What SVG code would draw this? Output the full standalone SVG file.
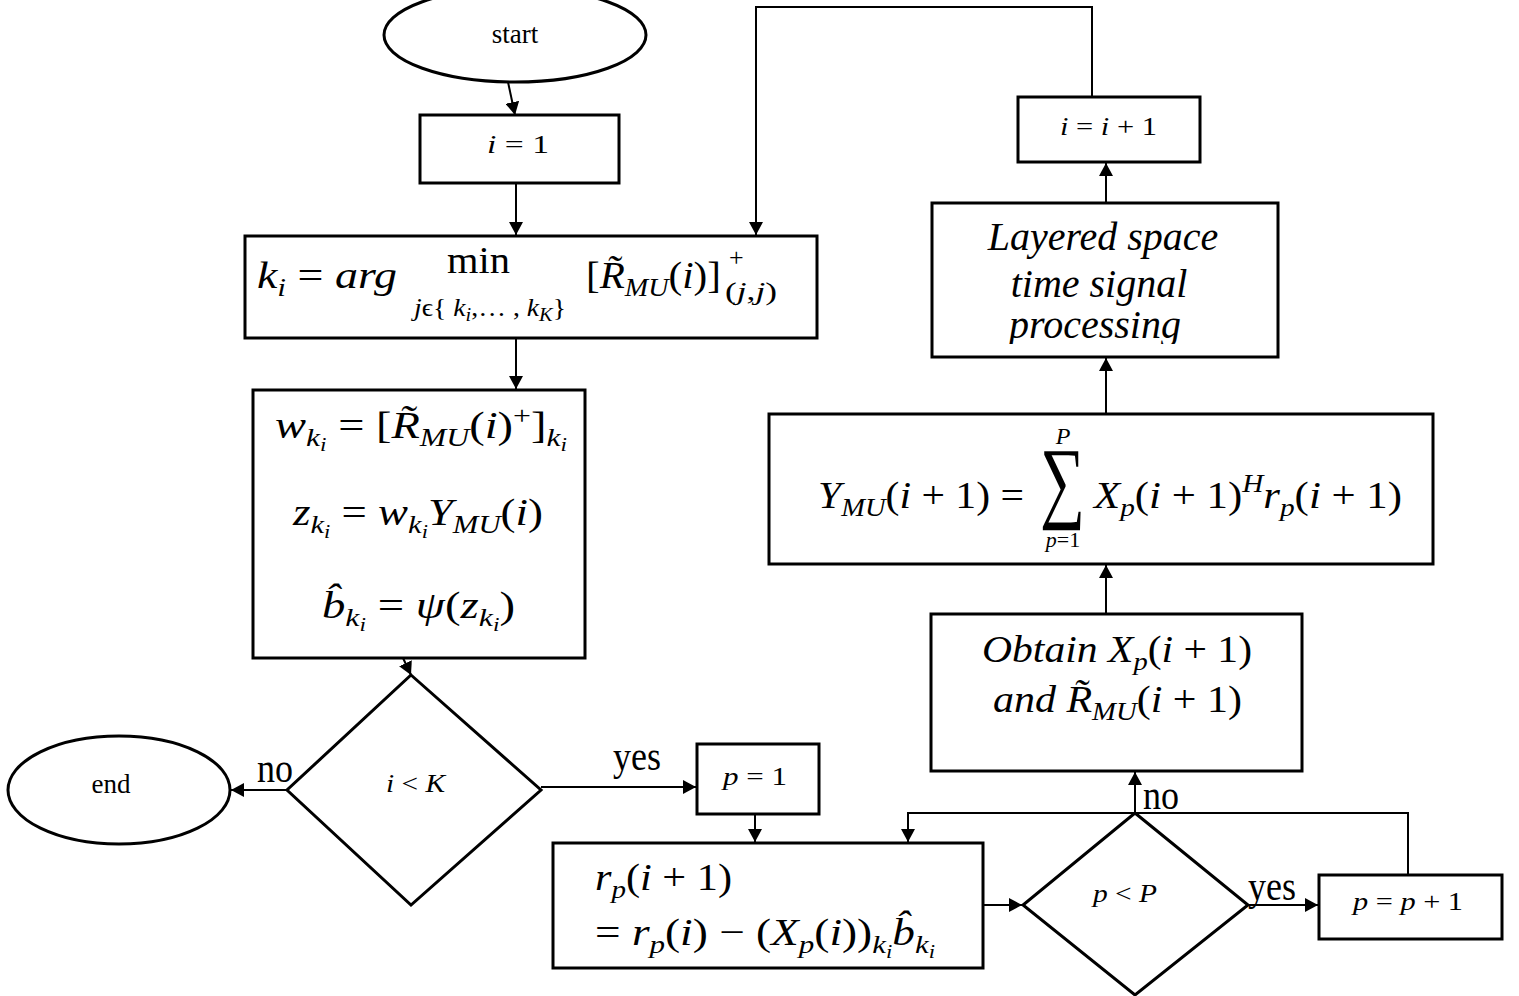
<svg xmlns="http://www.w3.org/2000/svg" width="1519" height="996" viewBox="0 0 1519 996">
<style>
text{font-family:"Liberation Serif","Times New Roman",serif;fill:#000}
.f{font-size:38px}
.s{font-size:26px}
.ss{font-size:19px}
.i{font-style:italic}
.box{fill:#fff;stroke:#000;stroke-width:3}
.sm{font-size:26px}
.lbl{font-size:36px}
.term{font-size:27px}
.conn line,.conn polyline{fill:none;stroke:#000;stroke-width:2}
</style>
<defs>
<marker id="ah" markerUnits="userSpaceOnUse" markerWidth="14" markerHeight="14" refX="13" refY="7" orient="auto">
<path d="M0,0 L13,7 L0,14 z" fill="#000"/>
</marker>
<clipPath id="clipLayer"><rect x="932" y="203" width="346" height="141"/></clipPath>
</defs>

<g id="start">
<ellipse class="box" cx="515" cy="35" rx="131" ry="47"/>
<text class="term" x="515" y="43" text-anchor="middle">start</text>
</g>

<g id="init-i">
<rect class="box" x="420" y="115" width="199" height="68"/>
<text class="sm" x="487" y="153" textLength="62" lengthAdjust="spacingAndGlyphs"><tspan class="i">i</tspan> = 1</text>
</g>

<g id="select-k">
<rect class="box" x="245" y="236" width="572" height="102"/>
<text class="f" x="257" y="288" textLength="140" lengthAdjust="spacingAndGlyphs"><tspan class="i">k</tspan><tspan class="s i" y="296">i</tspan><tspan y="288"> = </tspan><tspan class="i">arg</tspan></text>
<text class="f" x="447" y="273" textLength="63" lengthAdjust="spacingAndGlyphs">min</text>
<text class="s" x="414" y="316" textLength="152" lengthAdjust="spacingAndGlyphs"><tspan class="i">j</tspan><tspan>ϵ{ </tspan><tspan class="i">k</tspan><tspan class="ss i" y="321">i</tspan><tspan y="316">,… , </tspan><tspan class="i">k</tspan><tspan class="ss i" y="321">K</tspan><tspan y="316">}</tspan></text>
<text class="f" x="586" y="288" textLength="135" lengthAdjust="spacingAndGlyphs">[<tspan class="i">R̃</tspan><tspan class="s i" y="296">MU</tspan><tspan y="288">(</tspan><tspan class="i">i</tspan><tspan>)]</tspan></text>
<text class="s" x="729" y="266">+</text>
<text class="s" x="725" y="300" textLength="52" lengthAdjust="spacingAndGlyphs">(<tspan class="i">j</tspan>,<tspan class="i">j</tspan>)</text>
</g>

<g id="detect">
<rect class="box" x="253" y="390" width="332" height="268"/>
<text class="f" x="275" y="438" textLength="292" lengthAdjust="spacingAndGlyphs"><tspan class="i">w</tspan><tspan class="s i" y="446">k</tspan><tspan class="ss i" y="451">i</tspan><tspan y="438"> = [</tspan><tspan class="i">R̃</tspan><tspan class="s i" y="446">MU</tspan><tspan y="438">(</tspan><tspan class="i">i</tspan><tspan>)</tspan><tspan class="s" y="424">+</tspan><tspan y="438">]</tspan><tspan class="s i" y="446">k</tspan><tspan class="ss i" y="451">i</tspan></text>
<text class="f" x="293" y="525" textLength="250" lengthAdjust="spacingAndGlyphs"><tspan class="i">z</tspan><tspan class="s i" y="533">k</tspan><tspan class="ss i" y="538">i</tspan><tspan y="525"> = </tspan><tspan class="i">w</tspan><tspan class="s i" y="533">k</tspan><tspan class="ss i" y="538">i</tspan><tspan class="i" y="525">Y</tspan><tspan class="s i" y="533">MU</tspan><tspan y="525">(</tspan><tspan class="i">i</tspan><tspan>)</tspan></text>
<text class="f" x="322" y="618" textLength="193" lengthAdjust="spacingAndGlyphs"><tspan class="i">b̂</tspan><tspan class="s i" y="626">k</tspan><tspan class="ss i" y="631">i</tspan><tspan y="618"> = </tspan><tspan class="i">ψ</tspan><tspan>(</tspan><tspan class="i">z</tspan><tspan class="s i" y="626">k</tspan><tspan class="ss i" y="631">i</tspan><tspan y="618">)</tspan></text>
</g>

<g id="check-i">
<polygon class="box" points="411,675 541,790 411,905 287,790"/>
<text class="sm" x="386" y="792" textLength="59" lengthAdjust="spacingAndGlyphs"><tspan class="i">i</tspan> &lt; <tspan class="i">K</tspan></text>
</g>

<g id="end">
<ellipse class="box" cx="119" cy="790" rx="111" ry="54"/>
<text class="term" x="111" y="793" text-anchor="middle">end</text>
</g>

<g id="init-p">
<rect class="box" x="697" y="744" width="122" height="70"/>
<text class="sm" x="723" y="785" textLength="64" lengthAdjust="spacingAndGlyphs"><tspan class="i">p</tspan> = 1</text>
</g>

<g id="residual">
<rect class="box" x="553" y="843" width="430" height="125"/>
<text class="f" x="595" y="890" textLength="137" lengthAdjust="spacingAndGlyphs"><tspan class="i">r</tspan><tspan class="s i" y="898">p</tspan><tspan y="890">(</tspan><tspan class="i">i</tspan><tspan> + 1)</tspan></text>
<text class="f" x="595" y="945" textLength="340" lengthAdjust="spacingAndGlyphs">= <tspan class="i">r</tspan><tspan class="s i" y="953">p</tspan><tspan y="945">(</tspan><tspan class="i">i</tspan><tspan>) − (</tspan><tspan class="i">X</tspan><tspan class="s i" y="953">p</tspan><tspan y="945">(</tspan><tspan class="i">i</tspan><tspan>))</tspan><tspan class="s i" y="953">k</tspan><tspan class="ss i" y="958">i</tspan><tspan class="i" y="945">b̂</tspan><tspan class="s i" y="953">k</tspan><tspan class="ss i" y="958">i</tspan></text>
</g>

<g id="check-p">
<polygon class="box" points="1135,813 1248,905 1135,995 1023,905"/>
<text class="sm" x="1093" y="902" textLength="64" lengthAdjust="spacingAndGlyphs"><tspan class="i">p</tspan> &lt; <tspan class="i">P</tspan></text>
</g>

<g id="inc-p">
<rect class="box" x="1319" y="875" width="183" height="64"/>
<text class="sm" x="1353" y="910" textLength="110" lengthAdjust="spacingAndGlyphs"><tspan class="i">p</tspan> = <tspan class="i">p</tspan> + 1</text>
</g>

<g id="obtain">
<rect class="box" x="931" y="614" width="371" height="157"/>
<text class="f" x="982" y="662" textLength="270" lengthAdjust="spacingAndGlyphs"><tspan class="i">Obtain X</tspan><tspan class="s i" y="670">p</tspan><tspan y="662">(</tspan><tspan class="i">i</tspan><tspan> + 1)</tspan></text>
<text class="f" x="993" y="712" textLength="249" lengthAdjust="spacingAndGlyphs"><tspan class="i">and R̃</tspan><tspan class="s i" y="720">MU</tspan><tspan y="712">(</tspan><tspan class="i">i</tspan><tspan> + 1)</tspan></text>
</g>

<g id="combine">
<rect class="box" x="769" y="414" width="664" height="150"/>
<text class="f" x="818" y="508" textLength="206" lengthAdjust="spacingAndGlyphs"><tspan class="i">Y</tspan><tspan class="s i" y="516">MU</tspan><tspan y="508">(</tspan><tspan class="i">i</tspan><tspan> + 1) =</tspan></text>
<text x="1040" y="511" font-size="91" textLength="45" lengthAdjust="spacingAndGlyphs">∑</text>
<text class="i" font-size="24" x="1063" y="444" text-anchor="middle">P</text>
<text font-size="22" x="1063" y="547" text-anchor="middle"><tspan class="i">p</tspan>=1</text>
<text class="f" x="1094" y="508" textLength="308" lengthAdjust="spacingAndGlyphs"><tspan class="i">X</tspan><tspan class="s i" y="516">p</tspan><tspan y="508">(</tspan><tspan class="i">i</tspan><tspan> + 1)</tspan><tspan class="s i" y="492">H</tspan><tspan class="i" y="508">r</tspan><tspan class="s i" y="516">p</tspan><tspan y="508">(</tspan><tspan class="i">i</tspan><tspan> + 1)</tspan></text>
</g>

<g id="layered">
<rect class="box" x="932" y="203" width="346" height="154"/>
<g clip-path="url(#clipLayer)">
<text class="i" font-size="40" x="1103" y="250" text-anchor="middle">Layered space</text>
<text class="i" font-size="40" x="1099" y="297" text-anchor="middle">time signal</text>
<text class="i" font-size="40" x="1095" y="338" text-anchor="middle">processing</text>
</g>
</g>

<g id="inc-i">
<rect class="box" x="1018" y="97" width="182" height="65"/>
<text class="sm" x="1060" y="135" textLength="97" lengthAdjust="spacingAndGlyphs"><tspan class="i">i</tspan> = <tspan class="i">i</tspan> + 1</text>
</g>

<g id="labels">
<text class="lbl" transform="translate(257,782) scale(1,1.2)">no</text>
<text class="lbl" transform="translate(613,770) scale(1,1.2)">yes</text>
<text class="lbl" transform="translate(1248,900) scale(1,1.2)">yes</text>
<text class="lbl" transform="translate(1143,809) scale(1,1.2)">no</text>
</g>

<g class="conn" id="connectors">
<line x1="508" y1="82" x2="515" y2="115" marker-end="url(#ah)"/>
<line x1="516" y1="183" x2="516" y2="235" marker-end="url(#ah)"/>
<line x1="516" y1="338" x2="516" y2="389" marker-end="url(#ah)"/>
<line x1="403" y1="658" x2="411" y2="675" marker-end="url(#ah)"/>
<line x1="287" y1="790" x2="231" y2="790" marker-end="url(#ah)"/>
<line x1="541" y1="787" x2="696" y2="787" marker-end="url(#ah)"/>
<line x1="755" y1="814" x2="755" y2="842" marker-end="url(#ah)"/>
<line x1="983" y1="905" x2="1022" y2="905" marker-end="url(#ah)"/>
<line x1="1248" y1="905" x2="1318" y2="905" marker-end="url(#ah)"/>
<polyline points="1408,875 1408,813 908,813 908,842" marker-end="url(#ah)"/>
<line x1="1135" y1="813" x2="1135" y2="772" marker-end="url(#ah)"/>
<line x1="1106" y1="614" x2="1106" y2="565" marker-end="url(#ah)"/>
<line x1="1106" y1="414" x2="1106" y2="358" marker-end="url(#ah)"/>
<line x1="1106" y1="203" x2="1106" y2="163" marker-end="url(#ah)"/>
<polyline points="1092,97 1092,7 756,7 756,235" marker-end="url(#ah)"/>
</g>
</svg>
